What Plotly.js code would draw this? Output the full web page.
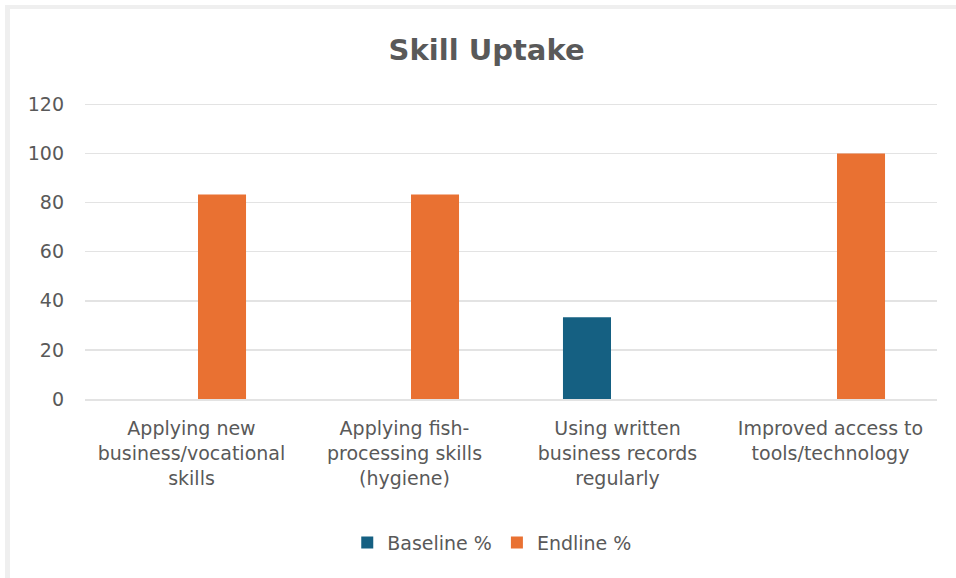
<!DOCTYPE html>
<html>
<head>
<meta charset="utf-8">
<script src="https://cdn.plot.ly/plotly-3.0.1.min.js"></script>
<style>
  html, body { margin: 0; padding: 0; background: #ffffff; }
  #wrap { position: relative; width: 956px; height: 578px; overflow: hidden; }
  #chart { position: absolute; left: 0; top: 0; width: 956px; height: 578px; }
  /* chart-area frame edges */
  .edge-top { position: absolute; left: 5px; top: 5px; width: 951px; height: 4px; background: #efefef; }
  .edge-left { position: absolute; left: 5px; top: 5px; width: 5px; height: 573px; background: #efefef; }
</style>
</head>
<body>
<div id="wrap">
  <div id="chart"></div>
  <div class="edge-top"></div>
  <div class="edge-left"></div>
</div>
<script>
// Skill uptake by indicator, baseline vs endline (%)
const categories = [
  "Applying new<br>business/vocational<br>skills",
  "Applying fish-<br>processing skills<br>(hygiene)",
  "Using written<br>business records<br>regularly",
  "Improved access to<br>tools/technology"
];
const baselinePct = [0, 0, 33.3, 0];
const endlinePct = [83.3, 83.3, 0, 100];
const yTicks = [0, 20, 40, 60, 80, 100, 120];

const labelFont = { family: "DejaVu Sans, sans-serif", size: 19, color: "#595959" };

const traces = [
  {
    type: "bar",
    name: "Baseline %",
    x: categories,
    y: baselinePct,
    marker: { color: "#156082" },
    hoverinfo: "y"
  },
  {
    type: "bar",
    name: "Endline %",
    x: categories,
    y: endlinePct,
    marker: { color: "#E97132" },
    hoverinfo: "y"
  }
];

const layout = {
  width: 956,
  height: 578,
  paper_bgcolor: "#ffffff",
  plot_bgcolor: "#ffffff",
  margin: { l: 85, r: 19, t: 102, b: 179 },
  barmode: "group",
  bargap: 0.427,
  bargroupgap: 0.213,
  title: {
    text: "<b>Skill Uptake</b>",
    font: { family: "DejaVu Sans, sans-serif", size: 29, color: "#595959" },
    x: 0.509,
    xanchor: "center",
    y: 0.913,
    yanchor: "middle",
    yref: "container"
  },
  xaxis: {
    type: "category",
    showgrid: false,
    showline: true,
    linecolor: "#e3e3e3",
    linewidth: 1.5,
    ticks: "",
    tickfont: labelFont,
    ticklabelstandoff: 12,
    automargin: false
  },
  yaxis: {
    range: [0, 121],
    tickvals: yTicks,
    ticktext: yTicks.map(String),
    showgrid: true,
    gridcolor: "#e3e3e3",
    gridwidth: 1.5,
    zeroline: false,
    showline: false,
    ticks: "",
    tickfont: labelFont,
    ticklabelstandoff: 20,
    automargin: false
  },
  showlegend: true,
  legend: {
    orientation: "h",
    x: 0.478,
    xanchor: "center",
    xref: "paper",
    y: 0.061,
    yanchor: "middle",
    yref: "container",
    font: labelFont,
    itemwidth: 30,
    tracegroupgap: 0,
    bgcolor: "rgba(0,0,0,0)"
  }
};

Plotly.newPlot("chart", traces, layout, { displayModeBar: false, staticPlot: true });
</script>
</body>
</html>
